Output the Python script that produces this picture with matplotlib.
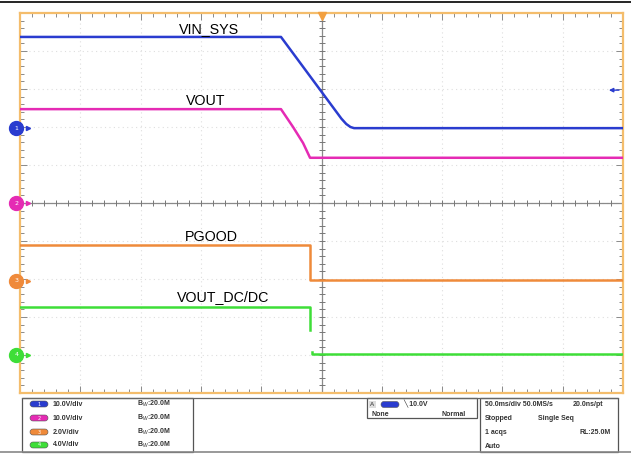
import numpy as np
import matplotlib.pyplot as plt
from matplotlib.patches import FancyBboxPatch, Rectangle

W, H = 631, 454
FONT = ['Liberation Sans', 'DejaVu Sans']

# time in ms (50 ms/div), level in divisions from screen centre
vin_t = [-250, -33.6, 16.5, 20.5, 24.0, 27.0, 250]
vin_v = [4.37, 4.37, 2.22, 2.08, 2.00, 1.97, 1.97]
vout_t = [-250, -33.6, -23.6, -15.3, -9.5, 250]
vout_v = [2.47, 2.47, 2.0, 1.58, 1.19, 1.19]
pgood_t = [-250, -9.5, -9.5, 250]
pgood_v = [-1.10, -1.10, -2.03, -2.03]
vdc_t = [-250, -9.5, -9.5, np.nan, -8.0, -8.0, 250]
vdc_v = [-2.74, -2.74, -3.34, np.nan, -3.92, -3.97, -3.97]

names = ['VIN_SYS', 'VOUT', 'PGOOD', 'VOUT_DC/DC']
colors = ['#2a3ccf', '#e52bb4', '#ef8a3a', '#3ede38']
ground = [1.97, 0.0, -2.05, -4.0]
label_xy = [(-118, 4.47), (-112.5, 2.58), (-113, -1.0), (-120, -2.58)]
trig_level = 2.97

scales = ['10.0V/div', '10.0V/div', '2.0V/div', '4.0V/div']
bw = ['B$_W$:20.0M'] * 4

fig = plt.figure(figsize=(W / 100, H / 100), dpi=100)

# full-figure pixel axes for the frame and the readout panel
pan = fig.add_axes([0, 0, 1, 1], zorder=0)
pan.set_xlim(0, W)
pan.set_ylim(H, 0)
pan.axis('off')

ax = fig.add_axes([20 / W, (H - 393) / H, 603 / W, 380 / H], zorder=1)
ax.set_xlim(-250, 250)
ax.set_ylim(-5, 5)
ax.set_facecolor('white')

# graticule
for x in np.arange(-200, 250, 50):
    ax.axvline(x, color='#dedede', lw=0.8, ls=(0, (1, 3)), zorder=1)
for y in np.arange(-4, 5, 1):
    ax.axhline(y, color='#dedede', lw=0.8, ls=(0, (1, 3)), zorder=1)
ax.axvline(0, color='#8a8a8a', lw=0.9, zorder=1)
ax.axhline(0, color='#8a8a8a', lw=0.9, zorder=1)
ax.plot(np.arange(-240, 250, 10), np.zeros(49), '|', color='#777777', ms=4, mew=0.7, zorder=1)
ax.plot(np.zeros(49), np.arange(-4.8, 5, 0.2), '_', color='#777777', ms=4, mew=0.7, zorder=1)

ax.set_xticks(np.arange(-250, 251, 50))
ax.set_xticks(np.arange(-250, 251, 10), minor=True)
ax.set_yticks(np.arange(-5, 6, 1))
ax.set_yticks(np.arange(-5, 5.01, 0.2), minor=True)
ax.tick_params(which='both', direction='in', top=True, right=True,
               labelbottom=False, labelleft=False, color='#8a8a8a', width=0.7)
ax.tick_params(which='major', length=5)
ax.tick_params(which='minor', length=3)
for s in ax.spines.values():
    s.set_color('#f4bd6c')
    s.set_linewidth(1.6)

# traces
for t, v, c in [(vin_t, vin_v, colors[0]), (vout_t, vout_v, colors[1]),
                (pgood_t, pgood_v, colors[2]), (vdc_t, vdc_v, colors[3])]:
    ax.plot(t, v, color=c, lw=1.8, zorder=3)

for name, (x, y) in zip(names, label_xy):
    ax.text(x, y, name, fontsize=10.3, family=FONT, color='black', va='baseline', zorder=4)

# ground markers on the left edge
for i, (g, c) in enumerate(zip(ground, colors)):
    ax.plot(-253, g, 'o', ms=10, color=c, clip_on=False, zorder=5)
    ax.text(-253, g, str(i + 1), fontsize=4.5, color='white', ha='center', va='center',
            clip_on=False, zorder=6)
    ax.plot(-243, g, '>', ms=3, color=c, clip_on=False, zorder=5)

# trigger position and level
ax.plot(0, 4.93, 'v', ms=6, color='#f2a040', clip_on=False, zorder=5)
ax.annotate('', xy=(236, trig_level), xytext=(249, trig_level),
            arrowprops=dict(arrowstyle='-|>', color=colors[0], lw=1, mutation_scale=6), zorder=5)

# frame lines
pan.plot([0, W], [1.5, 1.5], color='black', lw=1.2)
pan.plot([0, W], [451.5, 451.5], color='#888888', lw=1.2)

# readout panel
box_kw = dict(fill=False, ec='#555555', lw=0.9)
pan.plot([22, 618], [397.5, 397.5], color='#666666', lw=0.9)
pan.add_patch(Rectangle((22, 397.5), 171, 54, **box_kw))
pan.add_patch(Rectangle((367, 397.5), 110, 20, **box_kw))
pan.add_patch(Rectangle((480, 397.5), 138, 54, **box_kw))

tkw = dict(fontsize=5, family=FONT, color='#333333', va='center', fontweight='bold')
for i, y in enumerate([404, 418, 432, 445]):
    pan.add_patch(FancyBboxPatch((30, y - 3), 18, 6, boxstyle='round,pad=0,rounding_size=3',
                                 fc=colors[i], ec='#555555', lw=0.4))
    pan.text(39, y, str(i + 1), fontsize=3.5, color='white', ha='center', va='center')
    pan.text(53, y, scales[i], **tkw)
    pan.text(137, y, bw[i], **tkw)

pan.add_patch(Rectangle((369, 401), 7, 7, fc='#dddddd', ec='none'))
pan.text(372.5, 404.5, 'A', fontsize=4.5, family=FONT, color='#333333', ha='center', va='center')
pan.add_patch(FancyBboxPatch((381, 401.5), 18, 6, boxstyle='round,pad=0,rounding_size=3',
                             fc=colors[0], ec='#555555', lw=0.4))
pan.text(403, 404.5, '\u2572 10.0V', **tkw)
pan.text(372, 414, 'None', **tkw)
pan.text(441, 414, 'Normal', **tkw)

pan.text(485, 405, '50.0ms/div 50.0MS/s', **tkw)
pan.text(573, 405, '20.0ns/pt', **tkw)
pan.text(485, 419, 'Stopped', **tkw)
pan.text(538, 419, 'Single Seq', **tkw)
pan.text(485, 433, '1 acqs', **tkw)
pan.text(580, 433, 'RL:25.0M', **tkw)
pan.text(485, 447, 'Auto', **tkw)

fig.savefig('out.png', dpi=100)
